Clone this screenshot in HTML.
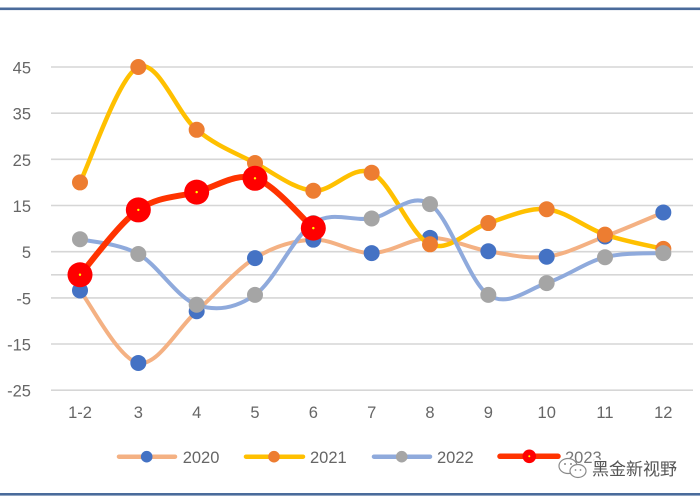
<!DOCTYPE html>
<html>
<head>
<meta charset="utf-8">
<style>
  html,body{margin:0;padding:0;background:#fff;}
  body{width:700px;height:499px;overflow:hidden;}
  svg{display:block;}
  .lbl{font-family:"Liberation Sans",sans-serif;font-size:16.5px;fill:#666;}
  .wm{font-family:"Liberation Sans","Noto Sans CJK SC",sans-serif;font-size:17px;fill:#555;stroke:#fff;stroke-width:2.5px;paint-order:stroke;}
</style>
</head>
<body>
<svg id="chart" width="700" height="499" viewBox="0 0 700 499" xmlns="http://www.w3.org/2000/svg">
  <rect x="0" y="0" width="700" height="499" fill="#fff"/>
  <!-- borders -->
  <rect x="0" y="7.5" width="700" height="2.6" fill="#4a6b9b"/>
  <rect x="0" y="493" width="700" height="2.6" fill="#4a6b9b"/>

  <!-- gridlines -->
  <g stroke="#d6d6d6" stroke-width="1.6">
    <line x1="51" x2="693" y1="67" y2="67"/>
    <line x1="51" x2="693" y1="113.2" y2="113.2"/>
    <line x1="51" x2="693" y1="159.3" y2="159.3"/>
    <line x1="51" x2="693" y1="205.5" y2="205.5"/>
    <line x1="51" x2="693" y1="251.7" y2="251.7"/>
    <line x1="51" x2="693" y1="274.8" y2="274.8"/>
    <line x1="51" x2="693" y1="297.9" y2="297.9"/>
    <line x1="51" x2="693" y1="344.0" y2="344.0"/>
    <line x1="51" x2="693" y1="390.2" y2="390.2"/>
  </g>

  <!-- y labels -->
  <g class="lbl" text-anchor="end">
    <text x="31" y="73.5">45</text>
    <text x="31" y="119.7">35</text>
    <text x="31" y="165.8">25</text>
    <text x="31" y="212">15</text>
    <text x="31" y="258.2">5</text>
    <text x="31" y="304.4">-5</text>
    <text x="31" y="350.5">-15</text>
    <text x="31" y="396.7">-25</text>
  </g>

  <!-- x labels -->
  <g class="lbl" text-anchor="middle">
    <text x="80" y="418">1-2</text>
    <text x="138.3" y="418">3</text>
    <text x="196.7" y="418">4</text>
    <text x="255" y="418">5</text>
    <text x="313.3" y="418">6</text>
    <text x="371.7" y="418">7</text>
    <text x="430" y="418">8</text>
    <text x="488.3" y="418">9</text>
    <text x="546.7" y="418">10</text>
    <text x="605" y="418">11</text>
    <text x="663.3" y="418">12</text>
  </g>

  <g id="series"></g>

  <!-- legend -->
  <g stroke-linecap="round">
    <line x1="119" x2="175" y1="456.7" y2="456.7" stroke="#f4b183" stroke-width="4.5"/>
    <circle cx="146.7" cy="456.7" r="5.8" fill="#4472c4"/>
    <line x1="246" x2="303" y1="456.7" y2="456.7" stroke="#ffc000" stroke-width="4.5"/>
    <circle cx="274" cy="456.7" r="5.8" fill="#ed7d31"/>
    <line x1="374" x2="430" y1="456.7" y2="456.7" stroke="#8faadc" stroke-width="4.5"/>
    <circle cx="401.7" cy="456.7" r="5.8" fill="#a5a5a5"/>
    <line x1="500" x2="558" y1="456.3" y2="456.3" stroke="#ff3300" stroke-width="5.5"/>
    <circle cx="529.3" cy="456.3" r="6.8" fill="#ff0000"/>
    <circle cx="529.3" cy="456.3" r="1" fill="#ffff00"/>
  </g>
  <g class="lbl">
    <text x="182.7" y="463">2020</text>
    <text x="310" y="463">2021</text>
    <text x="437" y="463">2022</text>
    <text x="565" y="463" fill="#777">2023</text>
  </g>

  <!-- watermark -->
  <g fill="#fff" stroke="#8a8a8a" stroke-width="1.2">
    <ellipse cx="568" cy="466" rx="9" ry="7.5"/>
    <ellipse cx="578" cy="471" rx="8" ry="6.5"/>
  </g>
  <g fill="#8a8a8a">
    <circle cx="565" cy="464" r="1"/>
    <circle cx="571" cy="464" r="1"/>
    <circle cx="575.5" cy="470" r="0.9"/>
    <circle cx="580.5" cy="470" r="0.9"/>
  </g>
  <text class="wm" x="592" y="475">黑金新视野</text>
</svg>
<script>
(function(){
  var NS="http://www.w3.org/2000/svg";
  var g=document.getElementById("series");
  function X(i){return 80+i*58.333;}
  function Y(v){return 67+(45-v)*4.617;}
  function pts(arr){return arr.map(function(v,i){return [X(i),Y(v)];});}
  function pathD(p){
    var d="M"+p[0][0].toFixed(2)+","+p[0][1].toFixed(2);
    for(var i=0;i<p.length-1;i++){
      var p0=p[i-1]||p[i],p1=p[i],p2=p[i+1],p3=p[i+2]||p[i+1];
      var c1x=p1[0]+(p2[0]-p0[0])/6,c1y=p1[1]+(p2[1]-p0[1])/6;
      var c2x=p2[0]-(p3[0]-p1[0])/6,c2y=p2[1]-(p3[1]-p1[1])/6;
      d+="C"+c1x.toFixed(2)+","+c1y.toFixed(2)+" "+c2x.toFixed(2)+","+c2y.toFixed(2)+" "+p2[0].toFixed(2)+","+p2[1].toFixed(2);
    }
    return d;
  }
  function el(n,a){var e=document.createElementNS(NS,n);for(var k in a)e.setAttribute(k,a[k]);g.appendChild(e);return e;}
  var series=[
    {v:[-3.4,-19.1,-7.9,3.6,7.6,4.7,8.0,5.1,3.9,8.3,13.5],line:"#f4b183",w:4,m:"#4472c4",r:8},
    {v:[20.0,45,31.4,24.2,18.2,22.1,6.6,11.2,14.2,8.7,5.6],line:"#ffc000",w:4.5,m:"#ed7d31",r:8},
    {v:[7.7,4.5,-6.5,-4.35,11.2,12.2,15.3,-4.35,-1.8,3.8,4.7],line:"#8faadc",w:4,m:"#a5a5a5",r:8},
    {v:[0,14.05,17.9,20.9,10.1],line:"#ff3300",w:6,m:"#ff0000",r:12.5,dot:true}
  ];
  series.forEach(function(s){
    var p=pts(s.v);
    el("path",{d:pathD(p),fill:"none",stroke:s.line,"stroke-width":s.w,"stroke-linecap":"round","stroke-linejoin":"round"});
    p.forEach(function(q){
      el("circle",{cx:q[0].toFixed(2),cy:q[1].toFixed(2),r:s.r,fill:s.m});
      if(s.dot) el("circle",{cx:q[0].toFixed(2),cy:q[1].toFixed(2),r:1.2,fill:"#ffff00"});
    });
  });
})();
</script>
</body>
</html>
